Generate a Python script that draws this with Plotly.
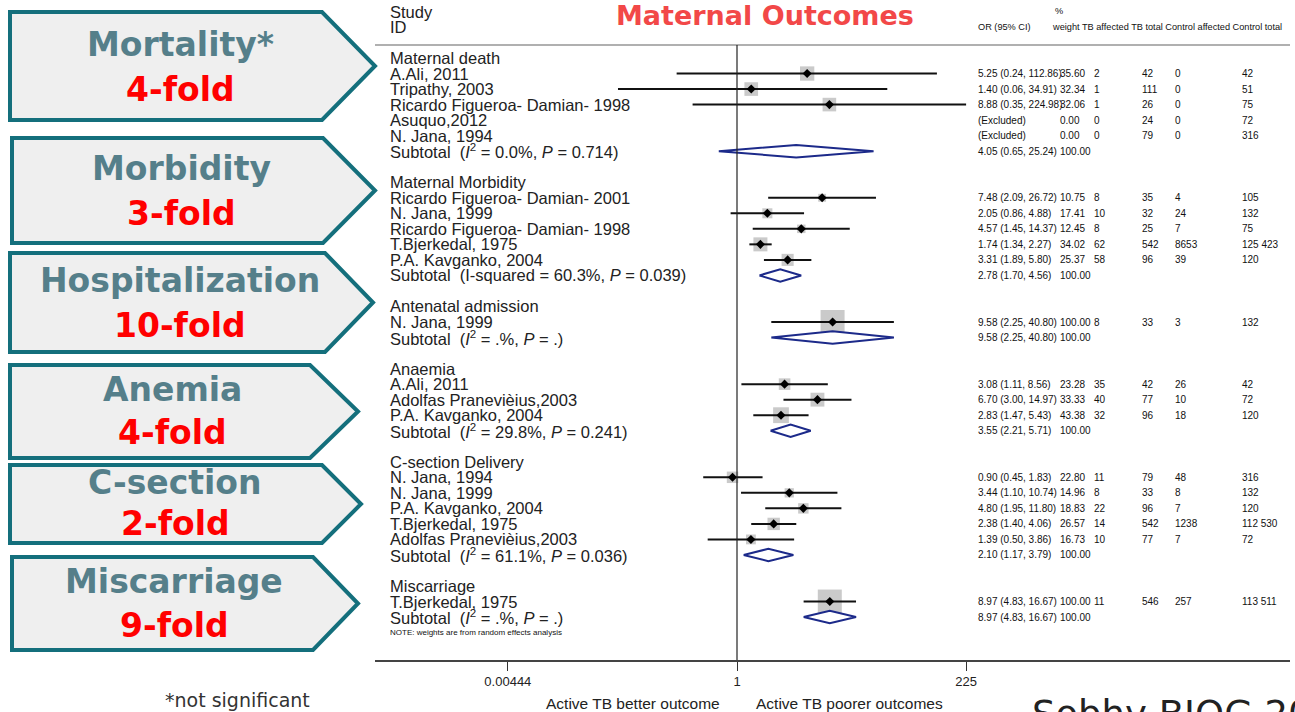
import math
import plotly.graph_objects as go

W, H = 1295, 712

# ---------------- forest plot data ----------------
group_titles = ["Maternal death", "Maternal Morbidity", "Antenatal admission",
                "Anaemia", "C-section Delivery", "Miscarriage"]

study_group = [0, 0, 0, 0, 0,
               1, 1, 1, 1, 1,
               2,
               3, 3, 3,
               4, 4, 4, 4, 4,
               5]
study_names = ["A.Ali, 2011", "Tripathy, 2003", "Ricardo Figueroa- Damian- 1998",
               "Asuquo,2012", "N. Jana, 1994",
               "Ricardo Figueroa- Damian- 2001", "N. Jana, 1999",
               "Ricardo Figueroa- Damian- 1998", "T.Bjerkedal, 1975", "P.A. Kavganko, 2004",
               "N. Jana, 1999",
               "A.Ali, 2011", "Adolfas Pranevièius,2003", "P.A. Kavganko, 2004",
               "N. Jana, 1994", "N. Jana, 1999", "P.A. Kavganko, 2004",
               "T.Bjerkedal, 1975", "Adolfas Pranevièius,2003",
               "T.Bjerkedal, 1975"]
study_or = [5.25, 1.40, 8.88, None, None,
            7.48, 2.05, 4.57, 1.74, 3.31,
            9.58,
            3.08, 6.70, 2.83,
            0.90, 3.44, 4.80, 2.38, 1.39,
            8.97]
study_lo = [0.24, 0.06, 0.35, None, None,
            2.09, 0.86, 1.45, 1.34, 1.89,
            2.25,
            1.11, 3.00, 1.47,
            0.45, 1.10, 1.95, 1.40, 0.50,
            4.83]
study_hi = [112.86, 34.91, 224.98, None, None,
            26.72, 4.88, 14.37, 2.27, 5.80,
            40.80,
            8.56, 14.97, 5.43,
            1.83, 10.74, 11.80, 4.06, 3.86,
            16.67]
study_weight = [35.60, 32.34, 32.06, 0.00, 0.00,
                10.75, 17.41, 12.45, 34.02, 25.37,
                100.00,
                23.28, 33.33, 43.38,
                22.80, 14.96, 18.83, 26.57, 16.73,
                100.00]
tb_affected = [2, 1, 1, 0, 0, 8, 10, 8, 62, 58, 8, 35, 40, 32, 11, 8, 22, 14, 10, 11]
tb_total = [42, 111, 26, 24, 79, 35, 32, 25, 542, 96, 33, 42, 77, 96, 79, 33, 96, 542, 77, 546]
control_affected = [0, 0, 0, 0, 0, 4, 24, 7, 8653, 39, 3, 26, 10, 18, 48, 8, 7, 1238, 7, 257]
control_total = [42, 51, 75, 72, 316, 105, 132, 75, 125423, 120, 132, 42, 72, 120,
                 316, 132, 120, 112530, 72, 113511]

subtotal_or = [4.05, 2.78, 9.58, 3.55, 2.10, 8.97]
subtotal_lo = [0.65, 1.70, 2.25, 2.21, 1.17, 4.83]
subtotal_hi = [25.24, 4.56, 40.80, 5.71, 3.79, 16.67]
subtotal_i2 = ["0.0%", "60.3%", ".%", "29.8%", "61.1%", ".%"]
subtotal_p = ["0.714", "0.039", ".", "0.241", "0.036", "."]

axis_ticks = [0.00444, 1, 225]
axis_tick_labels = ["0.00444", "1", "225"]

# ---------------- side panel data ----------------
panel_titles = ["Mortality*", "Morbidity", "Hospitalization", "Anemia", "C-section", "Miscarriage"]
panel_folds = ["4-fold", "3-fold", "10-fold", "4-fold", "2-fold", "9-fold"]

# ---------------- geometry helpers ----------------
ROW0, ROWH = 58.0, 15.53          # pixel y of first row, row height
PLOT_L, PLOT_R, PLOT_B = 375, 1290, 660
X_ONE, DECADE = 737.0, 97.4       # pixel x of OR = 1, pixels per decade


def px(x):
    return x / W


def py(y):
    return 1 - y / H


def fmt_count(n):
    return f"{n:,}".replace(",", " ") if n >= 100000 else str(n)


# assign row indices
rows_title, rows_study, rows_sub = [], [], []
k = 0
for g in range(len(group_titles)):
    rows_title.append(k)
    k += 1
    for i, sg in enumerate(study_group):
        if sg == g:
            rows_study.append(k)
            k += 1
    rows_sub.append(k)
    k += 2
note_row = rows_sub[-1] + 1

y_top = -ROW0 / ROWH
y_bot = (PLOT_B - ROW0) / ROWH
x_left = (PLOT_L - X_ONE) / DECADE
x_right = (PLOT_R - X_ONE) / DECADE

fig = go.Figure()

# weight boxes
box_x, box_y, box_s = [], [], []
for i in range(len(study_names)):
    if study_or[i] is None:
        continue
    box_x.append(study_or[i])
    box_y.append(rows_study[i])
    box_s.append(24 * math.sqrt(study_weight[i] / 100))
fig.add_trace(go.Scatter(x=box_x, y=box_y, mode="markers",
                         marker=dict(symbol="square", size=box_s, color="#b4b4b4",
                                     line=dict(width=0)),
                         hoverinfo="skip", showlegend=False))

# confidence intervals
ci_x, ci_y = [], []
for i in range(len(study_names)):
    if study_or[i] is None:
        continue
    ci_x += [study_lo[i], study_hi[i], None]
    ci_y += [rows_study[i], rows_study[i], None]
fig.add_trace(go.Scatter(x=ci_x, y=ci_y, mode="lines",
                         line=dict(color="#111111", width=2),
                         hoverinfo="skip", showlegend=False))

# point estimates
fig.add_trace(go.Scatter(x=box_x, y=box_y, mode="markers",
                         marker=dict(symbol="diamond", size=7, color="#000000"),
                         hoverinfo="skip", showlegend=False))

# pooled diamonds
dh = 0.40
dx, dy = [], []
for g in range(len(group_titles)):
    r = rows_sub[g]
    dx += [subtotal_lo[g], subtotal_or[g], subtotal_hi[g], subtotal_or[g], subtotal_lo[g], None]
    dy += [r, r - dh, r, r + dh, r, None]
fig.add_trace(go.Scatter(x=dx, y=dy, mode="lines", fill="toself", fillcolor="white",
                         line=dict(color="#1c2a8a", width=2),
                         hoverinfo="skip", showlegend=False))

ann = []
LBL = dict(family="Liberation Sans, Arial", size=16.5, color="#222222")
TBL = dict(family="Liberation Sans, Arial", size=10, color="#111111")
HDR = dict(family="Liberation Sans, Arial", size=9.2, color="#111111")


def label(x, y, text, font, xanchor="left", yref="y"):
    ann.append(dict(x=x, y=y, xref="paper", yref=yref, text=text, showarrow=False,
                    xanchor=xanchor, yanchor="middle", font=font))


col_or, col_w, col_ta, col_tt, col_ca, col_ct = 976, 1058, 1092, 1140, 1173, 1240

for g, t in enumerate(group_titles):
    label(px(388), rows_title[g], t, LBL)
    i2 = subtotal_i2[g]
    if g == 1:
        het = f"(I-squared = {i2}, <i>P</i> = {subtotal_p[g]})"
    else:
        het = f"(<i>I</i><sup>2</sup> = {i2}, <i>P</i> = {subtotal_p[g]})"
    label(px(388), rows_sub[g], "Subtotal  " + het, LBL)
    label(px(col_or), rows_sub[g],
          f"{subtotal_or[g]:.2f} ({subtotal_lo[g]:.2f}, {subtotal_hi[g]:.2f})", TBL)
    label(px(col_w), rows_sub[g], "100.00", TBL)

for i, name in enumerate(study_names):
    r = rows_study[i]
    label(px(388), r, name, LBL)
    if study_or[i] is None:
        or_txt = "(Excluded)"
    else:
        or_txt = f"{study_or[i]:.2f} ({study_lo[i]:.2f}, {study_hi[i]:.2f})"
    label(px(col_or), r, or_txt, TBL)
    label(px(col_w), r, f"{study_weight[i]:.2f}", TBL)
    label(px(col_ta), r, str(tb_affected[i]), TBL)
    label(px(col_tt), r, str(tb_total[i]), TBL)
    label(px(col_ca), r, str(control_affected[i]), TBL)
    label(px(col_ct), r, fmt_count(control_total[i]), TBL)

label(px(388), note_row, "NOTE: weights are from random effects analysis",
      dict(family="Liberation Sans, Arial", size=8, color="#111111"))

# column headers
label(px(388), py(12), "Study", LBL, yref="paper")
label(px(388), py(27), "ID", LBL, yref="paper")
label(px(976), py(27), "OR (95% CI)", HDR, yref="paper")
label(px(1053), py(11), "%", HDR, yref="paper")
label(px(1050), py(27), "weight TB affected TB total Control affected Control total", HDR, yref="paper")

# title
label(px(765), py(15), "<b>Maternal Outcomes</b>",
      dict(family="DejaVu Sans", size=27, color="#f24848"), xanchor="center", yref="paper")

# direction captions
CAP = dict(family="Liberation Sans, Arial", size=15.5, color="#222222")
label(px(633), py(703), "Active TB better outcome", CAP, xanchor="center", yref="paper")
label(px(849), py(703), "Active TB poorer outcomes", CAP, xanchor="center", yref="paper")

# side panel arrows
shapes = []
panel_geom = [(10, 12, 322, 375, 120), (12, 138, 323, 375, 243), (10, 253, 325, 373, 352),
              (10, 365, 310, 358, 458), (10, 465, 322, 361, 543), (12, 557, 313, 358, 650)]
panel_text_y = [(44, 89), (168, 213), (280, 325), (389, 433), (482, 523), (581, 625)]
panel_text_x = [180, 181, 180, 172, 175, 174]
for j in range(len(panel_titles)):
    l, t, rr, tip, b = panel_geom[j]
    m = (t + b) / 2
    path = (f"M {px(l)},{py(t)} L {px(rr)},{py(t)} L {px(tip)},{py(m)} "
            f"L {px(rr)},{py(b)} L {px(l)},{py(b)} Z")
    shapes.append(dict(type="path", xref="paper", yref="paper", path=path,
                       fillcolor="#efefef", line=dict(color="#146f7c", width=4),
                       layer="below"))
    ty, fy = panel_text_y[j]
    label(px(panel_text_x[j]), py(ty), f"<b>{panel_titles[j]}</b>",
          dict(family="DejaVu Sans", size=33, color="#557f8a"), xanchor="center", yref="paper")
    label(px(panel_text_x[j]), py(fy), f"<b>{panel_folds[j]}</b>",
          dict(family="DejaVu Sans", size=33, color="#ff0000"), xanchor="center", yref="paper")

label(px(237), py(700), "*not significant",
      dict(family="DejaVu Sans", size=19, color="#333333"), xanchor="center", yref="paper")

ann.append(dict(x=px(1030), y=py(691), xref="paper", yref="paper", text="Sobhy BJOG 2018",
                showarrow=False, xanchor="left", yanchor="top",
                font=dict(family="DejaVu Sans", size=37, color="#222222")))

# header rule and the line of no effect
shapes.append(dict(type="line", xref="paper", yref="paper", x0=px(375), x1=px(1290),
                   y0=py(45), y1=py(45), line=dict(color="#b0b0b0", width=2)))
shapes.append(dict(type="line", xref="x", yref="paper", x0=1, x1=1,
                   y0=py(45), y1=py(PLOT_B), line=dict(color="#222222", width=1.2)))

fig.update_layout(
    width=W, height=H, margin=dict(l=0, r=0, t=0, b=0),
    paper_bgcolor="white", plot_bgcolor="white",
    showlegend=False, shapes=shapes, annotations=ann,
    xaxis=dict(type="log", domain=[PLOT_L / W, PLOT_R / W], range=[x_left, x_right],
               tickvals=axis_ticks, ticktext=axis_tick_labels, ticks="outside",
               ticklen=9, tickwidth=1.2, tickcolor="#333333",
               showline=True, linecolor="#444444", linewidth=1.5,
               showgrid=False, zeroline=False,
               tickfont=dict(family="Liberation Sans, Arial", size=13, color="#222222")),
    yaxis=dict(domain=[1 - PLOT_B / H, 1], range=[y_bot, y_top], visible=False,
               showgrid=False, zeroline=False),
)

fig.write_html("out.html")
